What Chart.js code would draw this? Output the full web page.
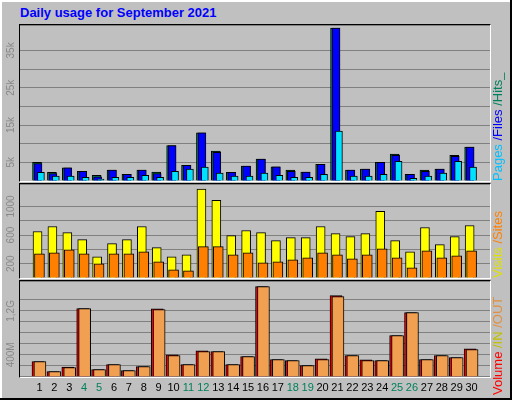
<!DOCTYPE html>
<html><head><meta charset="utf-8">
<script src="https://cdn.jsdelivr.net/npm/chart.js@4/dist/chart.umd.min.js"></script>
<style>
body{margin:0;background:#c0c0c0;}
#frame{position:absolute;left:0;top:0;width:510px;height:398px;border-right:2px solid #000;border-bottom:2px solid #000;background:#c0c0c0;}
#frame:before{content:'';position:absolute;left:0;top:0;width:508px;height:396px;border-left:2px solid #fff;border-top:2px solid #fff;}
#title{position:absolute;left:20px;top:5px;font:bold 13px "Liberation Sans",Arial,sans-serif;color:#0000ff;}
.pbox{position:absolute;left:19px;width:470px;border-left:1px solid #000;border-top:1px solid #000;border-right:1px solid #fff;border-bottom:1px solid #fff;}
canvas{position:absolute;left:0;}
</style></head>
<body>
<div id="frame"></div>
<div id="title">Daily usage for September 2021</div>
<div class="pbox" style="top:24px;height:156px"></div>
<div class="pbox" style="top:183px;height:94px"></div>
<div class="pbox" style="top:280px;height:96px"></div>
<canvas id="c1" style="top:25px"></canvas>
<canvas id="c2" style="top:184px"></canvas>
<canvas id="c3" style="top:281px"></canvas>
<script>
const days = [1,2,3,4,5,6,7,8,9,10,11,12,13,14,15,16,17,18,19,20,21,22,23,24,25,26,27,28,29,30];
const weekend = [4,5,11,12,18,19,25,26];
// hits, files, pages in thousands
const hits  = [5.0,2.3,3.5,2.6,1.5,2.9,1.8,2.9,2.4,9.5,4.2,12.9,8.0,2.3,4.0,5.9,3.8,2.9,2.4,4.5,41.0,2.9,3.2,5.0,7.2,1.8,2.9,3.2,6.9,9.1];
const files = [4.7,2.0,3.5,2.6,1.1,2.9,1.8,2.9,2.0,9.5,4.2,12.9,7.7,2.3,4.0,5.9,3.8,2.6,2.4,4.5,41.0,2.9,3.2,5.0,6.9,1.8,2.6,3.2,6.6,9.1];
const pages = [2.3,1.3,1.3,1.0,0.5,1.0,1.0,1.5,1.0,2.6,3.2,3.7,2.1,1.3,1.3,2.1,1.5,1.0,1.0,1.8,13.4,1.3,1.3,1.8,5.3,0.7,1.3,2.1,5.3,3.7];
const visits = [650,720,635,536,296,480,536,720,424,296,325,1242,1087,593,664,635,522,565,565,720,621,579,621,932,522,367,706,466,579,734];
const sites  = [339,353,395,339,198,339,339,367,226,113,99,438,438,325,353,212,226,254,282,353,325,268,325,409,282,141,381,282,311,381];
// MB
const volume = [279,97,176,1242,133,224,115,188,1236,400,224,473,461,224,370,1642,315,297,206,327,1479,388,309,297,752,1170,315,388,352,509];
const kbOut  = [279,97,170,1242,133,224,115,188,1224,388,224,461,461,224,370,1642,315,297,206,315,1461,388,297,297,752,1170,315,388,352,497];
const ticks1 = [[5,'5k'],[15,'15k'],[25,'25k'],[35,'35k']];
const ticks2 = [[200,'200'],[600,'600'],[1000,'1000']];
const ticks3 = [[400,'400M'],[1200,'1,2G']];

const FONT = '"Liberation Sans",Arial,sans-serif';
function ds(vals, off, w, color, order){
  return {data: days.map((d,i)=>({x:d+off*0.065, y:vals[i]})), backgroundColor: color,
    borderColor:'#000', borderWidth:1, barThickness:w, order:order, grouped:false};
}
function sidePlugin(labels, legend, legendBottom){
  return {id:'side', afterDraw(chart){
    const ctx = chart.ctx, y = chart.scales.y;
    ctx.save();
    ctx.font = '10px ' + FONT; ctx.fillStyle = '#888'; ctx.textAlign='center'; ctx.textBaseline='middle';
    labels.forEach(([v,t])=>{
      ctx.save(); ctx.translate(11, y.getPixelForValue(v)); ctx.rotate(-Math.PI/2); ctx.fillText(t,0,0); ctx.restore();
    });
    ctx.font = '13px ' + FONT; ctx.textAlign='left'; ctx.textBaseline='middle';
    ctx.translate(498, legendBottom); ctx.rotate(-Math.PI/2);
    let xx = 0;
    legend.forEach(([t,c])=>{ ctx.fillStyle=c; ctx.fillText(t,xx,0); xx += ctx.measureText(t).width; });
    ctx.restore();
  }};
}
function make(id, h, datasets, ymax, step, labels, legend, legendBottom, showX){
  const cv = document.getElementById(id);
  cv.width = 512; cv.height = h; cv.style.width='512px'; cv.style.height=h+'px';
  return new Chart(cv, {
    type:'bar',
    data:{datasets},
    options:{
      responsive:false, animation:false, devicePixelRatio:1,
      layout:{padding:{left:20,right:22,top:0,bottom:0}},
      plugins:{legend:{display:false},tooltip:{enabled:false}},
      scales:{
        x:{type:'linear', min:0.22, max:30.71, display:showX,
          afterBuildTicks:(s)=>{ s.ticks = days.map(d=>({value:d})); },
          grid:{display:false,drawTicks:false}, border:{display:false},
          ticks:{autoSkip:false, maxRotation:0, padding:5,
            font:{size:11,family:FONT},
            color:(c)=>weekend.includes(c.tick.value)?'#00805c':'#000',
            callback:(v)=>String(v)}},
        y:{min:0, max:ymax, grid:{color:'#808080',drawTicks:false,lineWidth:1},
          border:{display:false}, ticks:{display:false, stepSize:step}}
      }
    },
    plugins:[sidePlugin(labels, legend, legendBottom)]
  });
}
make('c1',156,[ds(pages,1.5,7,'#00e0ff',1), ds(files,-1.5,8,'#0000ff',2), ds(hits,-2.5,9,'#00805c',3)],
  41.8,5,ticks1,[['Pages ','#00c0ff'],['/Files ','#0000ff'],['/Hits_','#00805c']],156,false);
make('c2',94,[ds(sites,0,10,'#ff8000',1), ds(visits,-2,9,'#ffff00',2)],
  1314,200,ticks2,[['Visits ','#e0e000'],['/Sites','#ff8000']],94,false);
make('c3',119,[ds(kbOut,0.5,12,'#f0a050',1), ds(volume,-1.5,12,'#ff0000',2)],
  1745,200,ticks3,[['Volume ','#ff0000'],['/IN ','#c0c000'],['/OUT','#e09040']],114,true);
</script>
</body></html>
